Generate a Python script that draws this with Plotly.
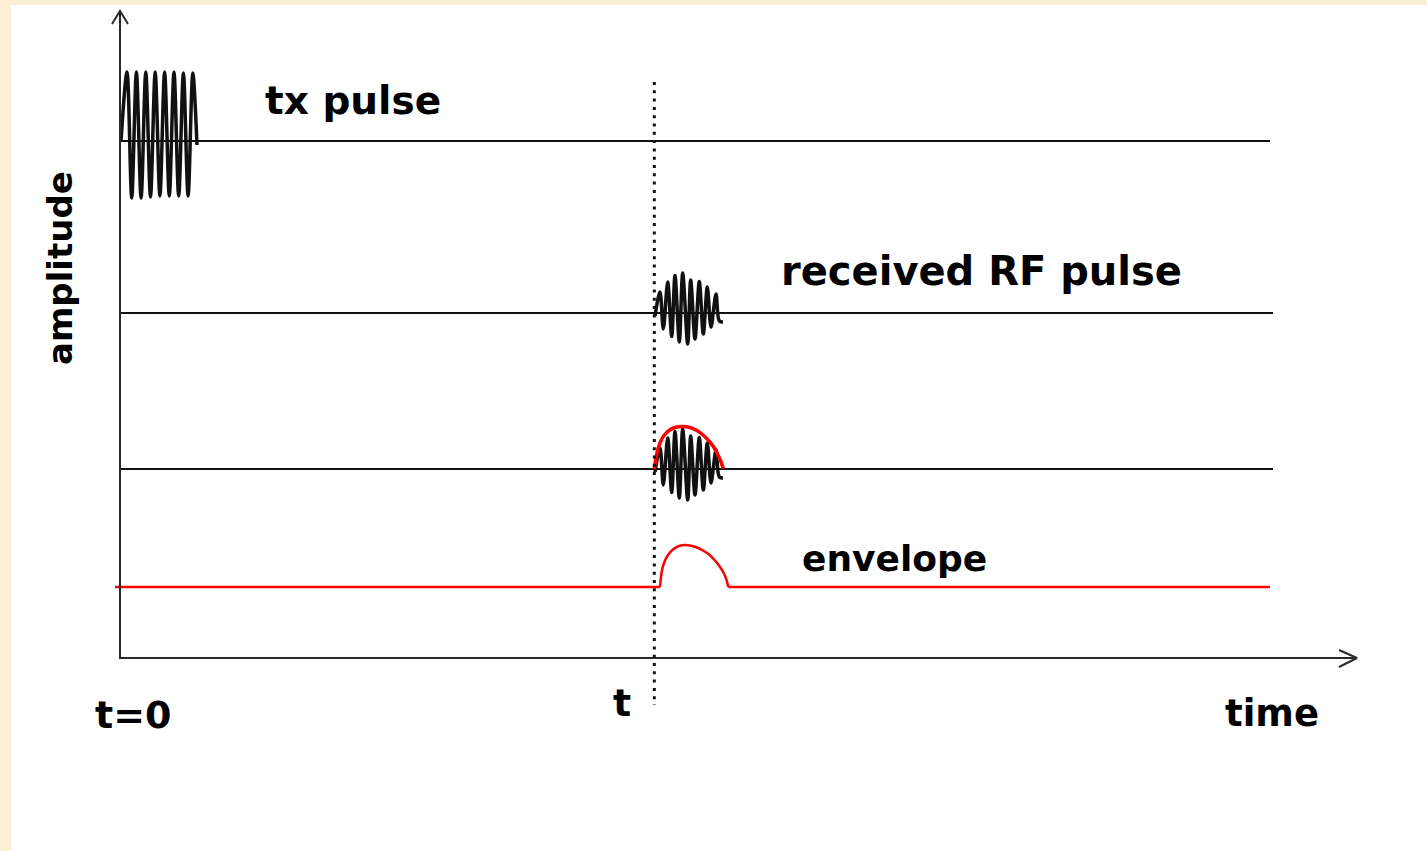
import plotly.graph_objects as go

# ---------------- data (time from t=0, amplitude in arbitrary units) ----------------
# baseline levels of the four stacked traces
level_tx = 517
level_rx = 345
level_rx_env = 189
level_env = 71
trace_end = [1150, 1153, 1153, 1150]      # tx, rx, rx+env, envelope

# transmitted pulse (alternating extrema)
tx_time = [1, 7, 11.7, 16.4, 21.1, 25.8, 30.5, 35.2, 39.9, 44.6, 49.3, 54, 58.7, 63.4, 68.1, 72.8, 77]
tx_amp = [0, 69, -57, 69, -57, 69, -56, 69, -55, 69, -55, 69, -55, 68, -55, 68, -4]

# received RF pulse (alternating extrema)
rx_time = [535, 540, 543.3, 547.7, 551.7, 555, 559.3, 562.7, 567.7, 570.7, 575, 579.3, 583.3, 587.3, 591, 596, 599.3, 603]
rx_amp = [-3, 21, -16, 31, -23.5, 37.5, -29, 40, -31, 33, -26, 31.5, -21, 26, -14, 19, -8, -9]

# envelope drawn over the RF pulse
fit_time = [534.3, 536.5, 540, 544, 549, 555, 562, 569, 576, 583, 589, 594, 598, 601, 603.3]
fit_amp = [0, 14, 26, 33.5, 38.5, 41.5, 42.5, 41.8, 39, 34, 28, 21.5, 14, 7, 0.5]

# detected envelope
env_time = [-5, 540, 541.5, 544, 548, 553, 559, 565, 571, 577, 583, 589, 595, 600, 604, 606.5, 608.3, 1150]
env_amp = [0, 0, 14, 24, 32, 37.5, 41, 42, 41.3, 39.5, 36.5, 32.5, 26.5, 20, 13.5, 7, 0, 0]

echo_time = 534.3
time_axis_end = 1237
amp_axis_end = 647

labels = ["tx pulse", "received RF pulse", "envelope", "amplitude", "t=0", "t", "time"]

# ---------------- figure ----------------
BLACK = "#111111"
RED = "#ff0000"
AXIS = "#2a2a2a"

fig = go.Figure()

# baselines
for lvl, end in zip([level_tx, level_rx, level_rx_env], trace_end[:3]):
    fig.add_trace(go.Scatter(x=[0, end], y=[lvl, lvl], mode="lines",
                             line=dict(color=BLACK, width=2), hoverinfo="skip"))

# tx pulse
fig.add_trace(go.Scatter(x=tx_time, y=[level_tx + a for a in tx_amp], mode="lines",
                         line=dict(color=BLACK, width=3.5, shape="spline", smoothing=0.9),
                         hoverinfo="skip"))
# received pulses
for lvl in [level_rx, level_rx_env]:
    fig.add_trace(go.Scatter(x=rx_time, y=[lvl + a for a in rx_amp], mode="lines",
                             line=dict(color=BLACK, width=3.5, shape="spline", smoothing=0.9),
                             hoverinfo="skip"))
# envelope over RF pulse
fig.add_trace(go.Scatter(x=fit_time, y=[level_rx_env + a for a in fit_amp], mode="lines",
                         line=dict(color=RED, width=3.5, shape="spline", smoothing=0.8),
                         hoverinfo="skip"))
# detected envelope: flat parts and the bump
n = len(env_time)
fig.add_trace(go.Scatter(x=env_time[:2], y=[level_env + a for a in env_amp[:2]], mode="lines",
                         line=dict(color=RED, width=2.5), hoverinfo="skip"))
fig.add_trace(go.Scatter(x=env_time[1:n - 1], y=[level_env + a for a in env_amp[1:n - 1]], mode="lines",
                         line=dict(color=RED, width=2.5, shape="spline", smoothing=0.5),
                         hoverinfo="skip"))
fig.add_trace(go.Scatter(x=env_time[n - 2:], y=[level_env + a for a in env_amp[n - 2:]], mode="lines",
                         line=dict(color=RED, width=2.5), hoverinfo="skip"))

# axes with open arrow heads
fig.add_trace(go.Scatter(x=[0, 0, time_axis_end], y=[amp_axis_end, 0, 0], mode="lines",
                         line=dict(color=AXIS, width=2), hoverinfo="skip"))
fig.add_trace(go.Scatter(x=[-8, 0, 8], y=[amp_axis_end - 13, amp_axis_end, amp_axis_end - 13],
                         mode="lines", line=dict(color=AXIS, width=2), hoverinfo="skip"))
fig.add_trace(go.Scatter(x=[time_axis_end - 18, time_axis_end, time_axis_end - 18], y=[8, 0, -9],
                         mode="lines", line=dict(color=AXIS, width=2), hoverinfo="skip"))

# dotted echo-time marker
fig.add_shape(type="line", x0=echo_time, x1=echo_time, y0=576, y1=-47,
              line=dict(color=BLACK, width=3, dash="3px,5.3px"))

font = dict(family="DejaVu Sans", size=38, color="#000000", weight="bold")
ann = [
    (labels[0], 233, 558, 0, 39),
    (labels[1], 861, 387, 0, 40),
    (labels[2], 774, 100, 0, 36),
    (labels[3], -60, 390, -90, 34),
    (labels[4], 13, -57, 0, 38),
    (labels[5], 502, -45, 0, 38),
    (labels[6], 1152, -55, 0, 37),
]
for txt, x, y, ang, sz in ann:
    fig.add_annotation(x=x, y=y, text=txt, showarrow=False, textangle=ang,
                       xanchor="center", yanchor="middle",
                       font=dict(font, size=sz))

fig.update_layout(
    width=1427, height=851,
    margin=dict(l=11, r=0, t=5, b=0),
    paper_bgcolor="#fcefd6",
    plot_bgcolor="#ffffff",
    showlegend=False,
    xaxis=dict(range=[-109, 1307], visible=False, fixedrange=True),
    yaxis=dict(range=[-193, 653], visible=False, fixedrange=True),
)

fig.write_html("out.html", config={"displayModeBar": False},
               post_script="document.body.style.margin='0';")
